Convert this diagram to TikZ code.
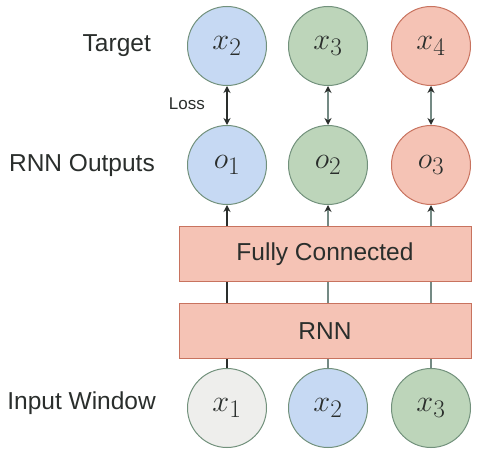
\documentclass[tikz,border=0pt]{standalone}
\usepackage{graphicx}
\usepackage{fontspec}
\setmainfont{Liberation Sans}
\usetikzlibrary{arrows.meta}
\definecolor{cblue}{HTML}{C6D9F3}
\definecolor{cgreen}{HTML}{BDD5BA}
\definecolor{cred}{HTML}{F5C3B5}
\definecolor{cgray}{HTML}{EEEEEC}
\definecolor{bgreen}{HTML}{72917C}
\definecolor{bred}{HTML}{C8735F}
\definecolor{lgray}{HTML}{748A84}
\definecolor{ldark}{HTML}{2A2E2C}
\newcommand{\mlab}[1]{\scalebox{1.22}{$#1$}}
\tikzset{
  x=1pt,y=1pt,
  circ/.style={circle,minimum size=79pt,inner sep=0pt,line width=1pt,font=\fontsize{24.88}{28}\selectfont,text=ldark},
  bluec/.style={circ,fill=cblue,draw=bgreen},
  greenc/.style={circ,fill=cgreen,draw=bgreen},
  redc/.style={circ,fill=cred,draw=bred},
  grayc/.style={circ,fill=cgray,draw=bgreen},
  layerbox/.style={rectangle,fill=cred,draw=bred,line width=1pt,minimum width=292pt,minimum height=55pt,inner sep=0pt,font=\fontsize{24.5}{28}\selectfont,text=ldark},
  rowlabel/.style={anchor=east,font=\fontsize{24.5}{28}\selectfont,text=ldark,inner sep=0pt},
  tipd/.style={{Stealth[length=7pt,width=7pt,color=ldark]}-{Stealth[length=7pt,width=7pt,color=ldark]}},
  tipu/.style={-{Stealth[length=7pt,width=7pt,color=ldark]}},
  darkline/.style={draw=ldark,line width=1.5pt},
  grayline/.style={draw=lgray,line width=1.5pt},
}
\begin{document}
\begin{tikzpicture}
\path[use as bounding box,fill=white] (0,0) rectangle (480,456);
% target row
\node[bluec]  (t1) at (227,410) {\mlab{x_2}};
\node[greenc] (t2) at (328,410) {\mlab{x_3}};
\node[redc]   (t3) at (431,410) {\mlab{x_4}};
% outputs
\node[bluec]  (o1) at (227,291) {\mlab{o_1}};
\node[greenc] (o2) at (328,291) {\mlab{o_2}};
\node[redc]   (o3) at (431,291) {\mlab{o_3}};
% boxes
\node[layerbox] (fc)  at (325,201.5) {Fully Connected};
\node[layerbox] (rnn) at (325,125) {RNN};
% inputs
\node[grayc]  (i1) at (227,48) {\mlab{x_1}};
\node[bluec]  (i2) at (328,48) {\mlab{x_2}};
\node[greenc] (i3) at (431,48) {\mlab{x_3}};
% labels
\node[rowlabel] (lt) at (151,410) {Target};
\node[rowlabel] (lo) at (155,291) {RNN Outputs};
\node[rowlabel] (li) at (156,53) {Input Window};
\node[anchor=east,inner sep=0pt,font=\fontsize{17}{20}\selectfont,text=ldark] (loss) at (205,352) {Loss};
% loss arrows
\draw[darkline,tipd] (o1.north) -- (t1.south);
\draw[grayline,tipd] (o2.north) -- (t2.south);
\draw[grayline,tipd] (o3.north) -- (t3.south);
% fc -> outputs
\draw[darkline,tipu] (fc.north -| o1) -- (o1.south);
\draw[grayline,tipu] (fc.north -| o2) -- (o2.south);
\draw[grayline,tipu] (fc.north -| o3) -- (o3.south);
% rnn -> fc
\draw[darkline] (rnn.north -| o1) -- (fc.south -| o1);
\draw[grayline] (rnn.north -| o2) -- (fc.south -| o2);
\draw[grayline] (rnn.north -| o3) -- (fc.south -| o3);
% inputs -> rnn
\draw[darkline] (i1.north) -- (rnn.south -| i1);
\draw[grayline] (i2.north) -- (rnn.south -| i2);
\draw[grayline] (i3.north) -- (rnn.south -| i3);
\end{tikzpicture}
\end{document}
